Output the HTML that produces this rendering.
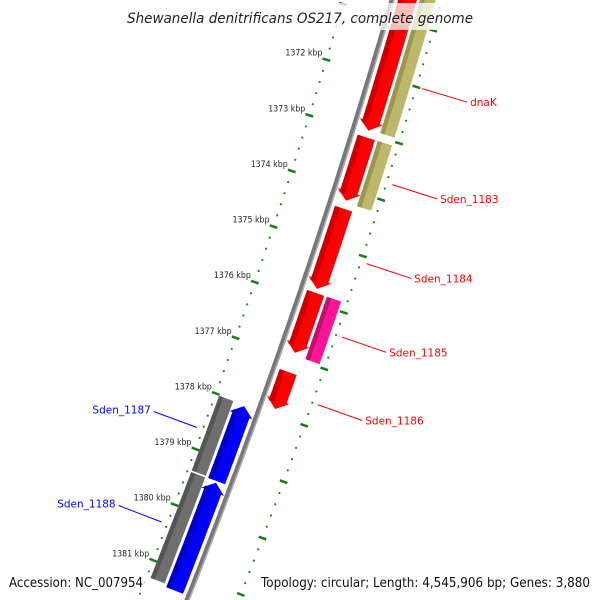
<!DOCTYPE html>
<html><head><meta charset="utf-8">
<style>
html,body{margin:0;padding:0;background:#fff;width:600px;height:600px;overflow:hidden;}
svg{display:block;font-family:"DejaVu Sans","Liberation Sans",sans-serif;overflow:hidden;}
</style></head>
<body>
<svg id="map" width="600" height="600" viewBox="0 0 600 600" xmlns="http://www.w3.org/2000/svg">
<g id="layer"></g>
<rect x="120" y="3" width="360" height="27" fill="#fff" opacity="0.75"/>
<text x="127" y="23" textLength="346" lengthAdjust="spacingAndGlyphs" font-size="14" font-style="italic" fill="#222">Shewanella denitrificans OS217, complete genome</text>
<rect x="5" y="570" width="142" height="22" fill="#fff" opacity="0.8"/>
<text x="9" y="587" textLength="134" lengthAdjust="spacingAndGlyphs" font-size="13" fill="#111">Accession: NC_007954</text>
<rect x="256" y="570" width="340" height="22" fill="#fff" opacity="0.8"/>
<text x="261" y="587" textLength="329" lengthAdjust="spacingAndGlyphs" font-size="13" fill="#111">Topology: circular; Length: 4,545,906 bp; Genes: 3,880</text>
</svg>
<script>
const tickKbp = [1372,1373,1374,1375,1376,1377,1378,1379,1380,1381];
const fwdStart = [1370.0,1373.07,1374.34,1375.84,1377.25];
const fwdEnd   = [1372.95,1374.2,1375.77,1376.91,1377.91];
const outerStart = [1370.0,1373.07,1375.84];
const outerEnd   = [1372.93,1374.23,1376.95];
const outerColor = ["#bdb76b","#bdb76b","#ff1493"];
const revStart = [1378.04,1379.41];
const revEnd   = [1379.38,1381.34];
const grayStart = [1378.02,1379.39];
const grayEnd   = [1379.36,1381.29];
const fwdLabels = ["dnaK","Sden_1183","Sden_1184","Sden_1185","Sden_1186"];
const fwdLabelKbp = [1372.0,1373.7,1375.1,1376.4,1377.6];
const revLabels = ["Sden_1187","Sden_1188"];
const revLabelKbp = [1378.65,1380.35];

const NS="http://www.w3.org/2000/svg";
const layer=document.getElementById('layer');
function kT(k){return 73+(k-1372)*56;}
function P(t,o){const d=-0.2894-0.000174*t;const n=Math.hypot(1,d);return [392-0.2894*t-0.000087*t*t+o/n, t-d*o/n];}
function mk(tag,attrs){const e=document.createElementNS(NS,tag);for(const k in attrs)e.setAttribute(k,attrs[k]);layer.appendChild(e);return e;}
function pts(a){return a.map(p=>p[0].toFixed(1)+','+p[1].toFixed(1)).join(' ');}
function band(t1,t2,o1,o2,arrow){
  const L=[],R=[];const n=12;
  let a1=t1,a2=t2;
  if(arrow===1)a2=t2-9; if(arrow===-1)a1=t1+9;
  for(let i=0;i<=n;i++){const t=a1+(a2-a1)*i/n;L.push(P(t,o1));R.push(P(t,o2));}
  let poly=[];
  if(arrow===-1){poly.push(P(a1,o1-3));poly.push(P(t1,(o1+o2)/2));poly.push(P(a1,o2+3));}
  poly=poly.concat(R);
  if(arrow===1){poly.push(P(a2,o2+3));poly.push(P(t2,(o1+o2)/2));poly.push(P(a2,o1-3));}
  poly=poly.concat(L.reverse());
  return pts(poly);
}
let bb=[];for(let t=-10;t<=610;t+=10)bb.push(P(t,0));
let e=mk('polyline',{points:pts(bb),fill:'none',stroke:'#777','stroke-width':5});


let bb2=[];for(let t=-10;t<=610;t+=10)bb2.push(P(t,1.8));
e=mk('polyline',{points:pts(bb2),fill:'none',stroke:'#aaa','stroke-width':1.5});


for(let i=0;i<=62;i++){
  const kk=Math.round((1369.8+i*0.2)*10)/10;const t=kT(kk);
  const major=Math.abs(kk-Math.round(kk))<0.01;
  [-46,48].forEach(o=>{
    const c=P(t,o);
    if(c[1]<-5||c[1]>605)return;
    if(major){const a=P(t,o-4),b=P(t,o+4);
      const m=mk('line',{x1:a[0],y1:a[1],x2:b[0],y2:b[1],stroke:'#1a7a1a','stroke-width':2.5});
      
      
    } else {
      const m=mk('circle',{cx:c[0],cy:c[1],r:1.1,fill:'#1a8a1a'});
      
      
    }
  });
}
tickKbp.forEach(k=>{
  const c=P(kT(k),-46);
  const tx=mk('text',{x:c[0]-41,y:c[1]-4,'font-size':8.5,textLength:37,lengthAdjust:'spacingAndGlyphs',fill:'#222'});
  tx.textContent=k+' kbp';
  
  
});
function gene(t1,t2,o1,o2,arrow,fill,dark,name){
  const g=mk('polygon',{points:band(t1,t2,o1,o2,arrow),fill:fill});
  
  
  const s=mk('polygon',{points:band(t1+(arrow===-1?6:0),t2-(arrow===1?6:0),o1,o1+(o2-o1)*0.3,0),fill:dark});
  
  
}
fwdStart.forEach((s,i)=>gene(kT(s),kT(fwdEnd[i]),6,24,1,'#ff0000','#cc0000','forward-gene-'+i));
outerStart.forEach((s,i)=>gene(kT(s),kT(outerEnd[i]),27,42,0,outerColor[i],i<2?'#9c9650':'#c01070','outer-feature-'+i));
revStart.forEach((s,i)=>gene(kT(s),kT(revEnd[i]),-24,-6,-1,'#0000ff','#0000c0','reverse-gene-'+i));
grayStart.forEach((s,i)=>gene(kT(s),kT(grayEnd[i]),-42,-27,0,'#6e6e6e','#555','gray-feature-'+i));
fwdLabels.forEach((l,i)=>{
  const a=P(kT(fwdLabelKbp[i]),54),b=P(kT(fwdLabelKbp[i]),101);
  const ln=mk('line',{x1:a[0],y1:a[1],x2:b[0],y2:b[1],stroke:'#ff0000','stroke-width':1});
  
  
  const tx=mk('text',{x:b[0]+3,y:b[1]+4,'font-size':10.5,fill:'#ff0000'});
  tx.textContent=l;
  
  
});
revLabels.forEach((l,i)=>{
  const a=P(kT(revLabelKbp[i]),-52),b=P(kT(revLabelKbp[i]),-98);
  const ln=mk('line',{x1:a[0],y1:a[1],x2:b[0],y2:b[1],stroke:'#0000ff','stroke-width':1});
  
  
  const tx=mk('text',{x:b[0]-3,y:b[1]+2,'font-size':10.5,fill:'#0000ff','text-anchor':'end'});
  tx.textContent=l;
  
  
});
</script>
</body></html>
